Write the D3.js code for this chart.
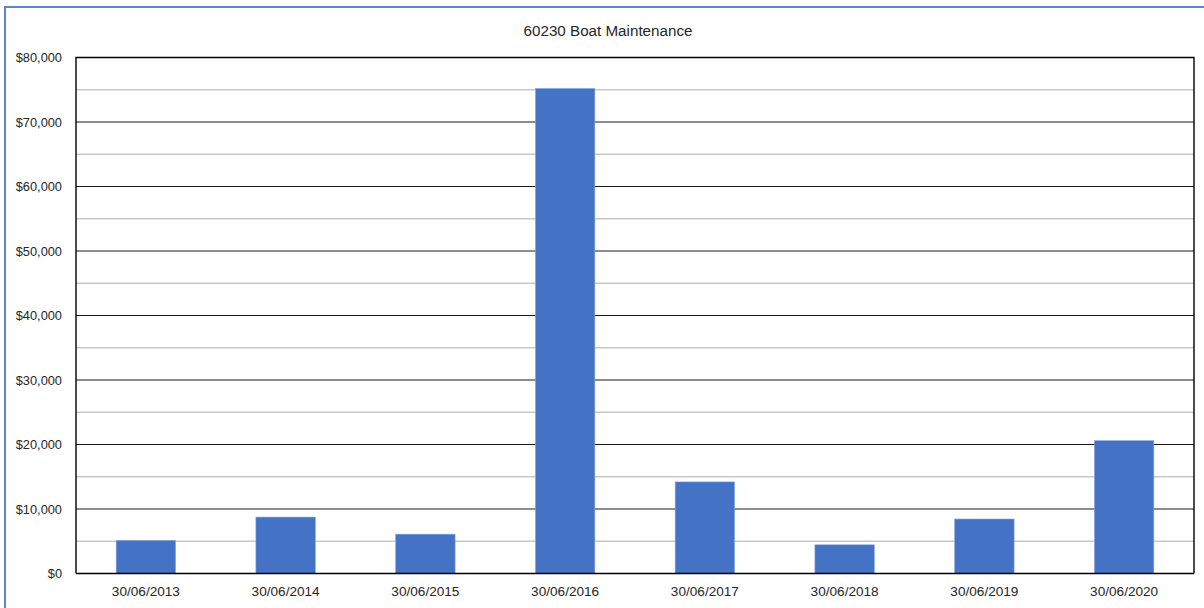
<!DOCTYPE html>
<html><head><meta charset="utf-8">
<script src="https://cdn.jsdelivr.net/npm/d3@7/dist/d3.min.js"></script>
<style>html,body{margin:0;padding:0;background:#fff;overflow:hidden}</style>
</head><body>
<svg id="chart" width="1204" height="608"></svg>
<script>
const categories = ["30/06/2013","30/06/2014","30/06/2015","30/06/2016","30/06/2017","30/06/2018","30/06/2019","30/06/2020"];
const values = [5150, 8750, 6100, 75200, 14200, 4450, 8450, 20600];
const majorTicks = [0,10000,20000,30000,40000,50000,60000,70000,80000];
const minorTicks = [5000,15000,25000,35000,45000,55000,65000,75000];
const title = "60230 Boat Maintenance";

const svg = d3.select("#chart");
const font = "'Liberation Sans', Arial, sans-serif";
const m = {left:76, right:1194, top:57.5, bottom:573.5};

// outer chart border
svg.append("rect").attr("x",5).attr("y",7).attr("width",1220).attr("height",620)
  .attr("fill","#fff").attr("stroke","#5a86d4").attr("stroke-width",2);

const x = d3.scaleBand().domain(categories).range([m.left,m.right]).paddingInner(0.5745).paddingOuter(0.28725);
const y = d3.scaleLinear().domain([0,80000]).range([m.bottom,m.top]);

// minor gridlines
svg.append("g").selectAll("line").data(minorTicks).join("line")
  .attr("x1",m.left).attr("x2",m.right).attr("y1",d=>y(d)).attr("y2",d=>y(d))
  .attr("stroke","#c8c8c8").attr("stroke-width",1.3);
// major gridlines
svg.append("g").selectAll("line").data(majorTicks).join("line")
  .attr("x1",m.left).attr("x2",m.right).attr("y1",d=>y(d)).attr("y2",d=>y(d))
  .attr("stroke","#1a1a1a").attr("stroke-width",1.2);

// bars
svg.append("g").selectAll("rect").data(values).join("rect")
  .attr("x",(d,i)=>x(categories[i])).attr("width",x.bandwidth())
  .attr("y",d=>y(d)).attr("height",d=>y(0)-y(d))
  .attr("fill","#4472c4").attr("stroke","#8eaadb").attr("stroke-width",0.6);

// plot frame (left, top, right) + bottom axis
svg.append("path").attr("d",`M${m.left},${m.bottom}V${m.top}H${m.right}V${m.bottom}`)
  .attr("fill","none").attr("stroke","#000").attr("stroke-width",1.4);
svg.append("line").attr("x1",m.left).attr("x2",m.right).attr("y1",m.bottom).attr("y2",m.bottom)
  .attr("stroke","#000").attr("stroke-width",1.6);

// y axis labels
const yAxis = d3.axisLeft(y).tickValues(majorTicks).tickSize(0).tickPadding(14)
  .tickFormat(d=>"$"+d3.format(",")(d));
const gy = svg.append("g").attr("transform",`translate(${m.left},0)`).call(yAxis);
gy.select(".domain").remove();
gy.selectAll("text").attr("font-family",font).attr("font-size",12.8).attr("fill","#262626");

// x axis labels
const xAxis = d3.axisBottom(x).tickSize(0).tickPadding(13);
const gx = svg.append("g").attr("transform",`translate(0,${m.bottom})`).call(xAxis);
gx.select(".domain").remove();
gx.selectAll("text").attr("font-family",font).attr("font-size",13.6).attr("fill","#262626");

// title
svg.append("text").attr("x",608).attr("y",36).attr("text-anchor","middle")
  .attr("font-family",font).attr("font-size",15.2).attr("fill","#262626").text(title);
</script>
</body></html>
